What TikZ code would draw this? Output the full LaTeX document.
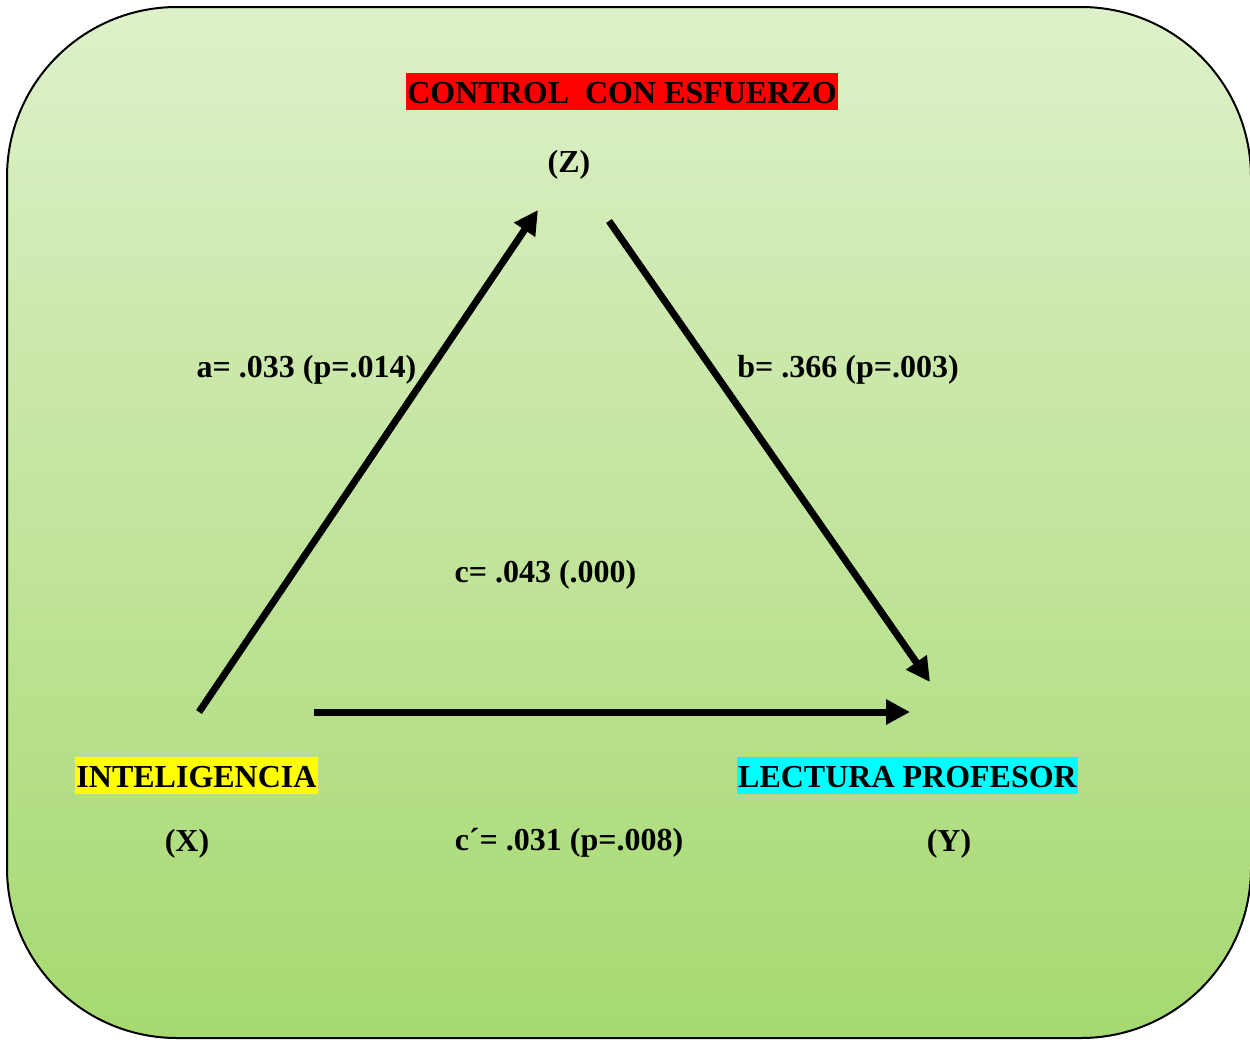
\documentclass[tikz,border=0pt]{standalone}
\usepackage{fontspec}
\setmainfont{Liberation Serif}
\usetikzlibrary{arrows.meta}
\definecolor{bgtop}{RGB}{222,240,201}
\definecolor{bgbot}{RGB}{166,217,112}
\definecolor{hlred}{RGB}{255,0,0}
\definecolor{hlyellow}{RGB}{255,255,0}
\definecolor{hlcyan}{RGB}{0,255,255}
\tikzset{
  lbl/.style={font=\fontsize{32}{36}\selectfont\bfseries, inner sep=0pt, anchor=base},
  hl/.style={lbl, text height=30pt, text depth=6.5pt, inner xsep=1pt},
  arr/.style={line width=7pt, -{Triangle[length=24pt,width=24pt]}},
}
\begin{document}
\begin{tikzpicture}[x=1pt,y=-1pt]
\useasboundingbox (0,0) rectangle (1250,1039);
\begin{scope}
\clip (0,0) rectangle (1250,1039);
\shade[top color=bgtop, bottom color=bgbot, rounded corners=170pt] (7,7) rectangle (1251,1038);
\draw[line width=2pt, rounded corners=170pt] (7,7) rectangle (1251,1038);
\end{scope}
\node[hl, fill=hlred] (zt) at (622,103) {CONTROL\ \ CON ESFUERZO};
\node[lbl] (z) at (569,172) {(Z)};
\node[hl, fill=hlyellow] (xt) at (196.5,787) {INTELIGENCIA};
\node[lbl] (x) at (187,851) {(X)};
\node[hl, fill=hlcyan] (yt) at (907.5,787) {LECTURA PROFESOR};
\node[lbl] (y) at (949,851) {(Y)};
\node[lbl] (a) at (306.5,377) {a= .033 (p=.014)};
\node[lbl] (b) at (848,377) {b= .366 (p=.003)};
\node[lbl] (c) at (545.5,582) {c= .043 (.000)};
\node[lbl] (cp) at (569,850) {c´= .031 (p=.008)};
\coordinate (x1) at (199,712);
\coordinate (z1) at (538,210);
\coordinate (z2) at (609,221);
\coordinate (y1) at (930,682);
\coordinate (x2) at (314,712);
\coordinate (y2) at (910,712);
\draw[arr] (x1) -- (z1);
\draw[arr] (z2) -- (y1);
\draw[arr] (x2) -- (y2);
\end{tikzpicture}
\end{document}
